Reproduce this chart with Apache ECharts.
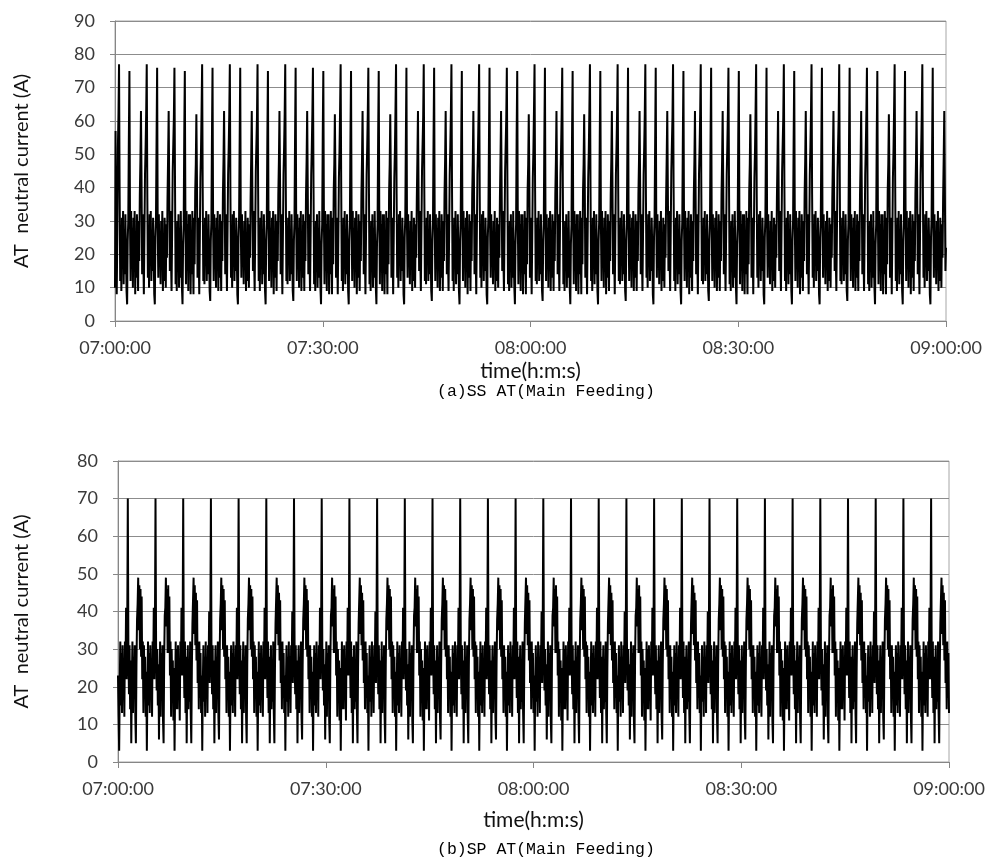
<!DOCTYPE html>
<html>
<head>
<meta charset="utf-8">
<script src="https://cdn.jsdelivr.net/npm/echarts@6/dist/echarts.min.js"></script>
<style>
html,body{margin:0;padding:0;background:#fff;}
#chart{width:988px;height:861px;}
</style>
</head>
<body>
<div id="chart"></div>
<script>
// sample spacing (seconds) and start time of the record
const stepSeconds = 5;
const startClock = 7 * 3600;
const xMinSeconds = 0, xMaxSeconds = 7200, xTickStep = 1800;

// (a) SS AT (Main Feeding) — neutral current in A, one value every 5 s from 07:00:00
const ssCurrent = [
10,57,20,8,26,52,62,
77,40,12,26,9,31,18,33,11,27,14,32,20,9,5,24,30,55,75,30,12,33,16,28,10,31,19,33,8,25,13,32,22,9,30,18,38,48,63,42,14,32,20,8,26,44,52,62,
77,38,13,27,10,32,17,33,12,26,15,31,21,8,5,25,31,54,76,28,13,32,17,27,11,30,20,33,9,26,12,31,23,10,29,19,37,49,63,40,15,33,19,9,27,45,53,61,
76,41,11,25,9,30,19,32,10,28,13,33,19,10,5,23,29,56,75,31,11,33,15,29,9,32,18,32,8,24,14,33,21,8,31,17,39,47,62,43,13,31,21,8,25,43,51,63,
77,39,12,27,11,31,18,33,12,27,14,32,20,9,6,24,30,55,76,29,12,32,16,28,10,31,19,33,9,25,13,32,22,9,30,18,38,48,63,41,14,32,20,9,26,44,52,62,
77,38,13,27,10,32,17,33,12,26,15,31,21,8,5,25,31,54,76,28,13,32,17,27,11,30,20,33,9,26,12,31,23,10,29,19,37,49,63,40,15,33,19,9,27,45,53,61,
77,40,12,26,9,31,18,33,11,27,14,32,20,9,5,24,30,55,75,30,12,33,16,28,10,31,19,33,8,25,13,32,22,9,30,18,38,48,63,42,14,32,20,8,26,44,52,62,
77,39,12,27,11,31,18,33,12,27,14,32,20,9,6,24,30,55,76,29,12,32,16,28,10,31,19,33,9,25,13,32,22,9,30,18,38,48,63,41,14,32,20,9,26,44,52,62,
76,41,11,25,9,30,19,32,10,28,13,33,19,10,5,23,29,56,75,31,11,33,15,29,9,32,18,32,8,24,14,33,21,8,31,17,39,47,62,43,13,31,21,8,25,43,51,63,
77,40,12,26,9,31,18,33,11,27,14,32,20,9,5,24,30,55,75,30,12,33,16,28,10,31,19,33,8,25,13,32,22,9,30,18,38,48,63,42,14,32,20,8,26,44,52,62,
76,41,11,25,9,30,19,32,10,28,13,33,19,10,5,23,29,56,75,31,11,33,15,29,9,32,18,32,8,24,14,33,21,8,31,17,39,47,62,43,13,31,21,8,25,43,51,63,
77,38,13,27,10,32,17,33,12,26,15,31,21,8,5,25,31,54,76,28,13,32,17,27,11,30,20,33,9,26,12,31,23,10,29,19,37,49,63,40,15,33,19,9,27,45,53,61,
77,39,12,27,11,31,18,33,12,27,14,32,20,9,6,24,30,55,76,29,12,32,16,28,10,31,19,33,9,25,13,32,22,9,30,18,38,48,63,41,14,32,20,9,26,44,52,62,
77,40,12,26,9,31,18,33,11,27,14,32,20,9,5,24,30,55,75,30,12,33,16,28,10,31,19,33,8,25,13,32,22,9,30,18,38,48,63,42,14,32,20,8,26,44,52,62,
77,38,13,27,10,32,17,33,12,26,15,31,21,8,5,25,31,54,76,28,13,32,17,27,11,30,20,33,9,26,12,31,23,10,29,19,37,49,63,40,15,33,19,9,27,45,53,61,
76,41,11,25,9,30,19,32,10,28,13,33,19,10,5,23,29,56,75,31,11,33,15,29,9,32,18,32,8,24,14,33,21,8,31,17,39,47,62,43,13,31,21,8,25,43,51,63,
77,39,12,27,11,31,18,33,12,27,14,32,20,9,6,24,30,55,76,29,12,32,16,28,10,31,19,33,9,25,13,32,22,9,30,18,38,48,63,41,14,32,20,9,26,44,52,62,
76,41,11,25,9,30,19,32,10,28,13,33,19,10,5,23,29,56,75,31,11,33,15,29,9,32,18,32,8,24,14,33,21,8,31,17,39,47,62,43,13,31,21,8,25,43,51,63,
77,40,12,26,9,31,18,33,11,27,14,32,20,9,5,24,30,55,75,30,12,33,16,28,10,31,19,33,8,25,13,32,22,9,30,18,38,48,63,42,14,32,20,8,26,44,52,62,
77,39,12,27,11,31,18,33,12,27,14,32,20,9,6,24,30,55,76,29,12,32,16,28,10,31,19,33,9,25,13,32,22,9,30,18,38,48,63,41,14,32,20,9,26,44,52,62,
77,38,13,27,10,32,17,33,12,26,15,31,21,8,5,25,31,54,76,28,13,32,17,27,11,30,20,33,9,26,12,31,23,10,29,19,37,49,63,40,15,33,19,9,27,45,53,61,
77,40,12,26,9,31,18,33,11,27,14,32,20,9,5,24,30,55,75,30,12,33,16,28,10,31,19,33,8,25,13,32,22,9,30,18,38,48,63,42,14,32,20,8,26,44,52,62,
77,39,12,27,11,31,18,33,12,27,14,32,20,9,6,24,30,55,76,29,12,32,16,28,10,31,19,33,9,25,13,32,22,9,30,18,38,48,63,41,14,32,20,9,26,44,52,62,
76,41,11,25,9,30,19,32,10,28,13,33,19,10,5,23,29,56,75,31,11,33,15,29,9,32,18,32,8,24,14,33,21,8,31,17,39,47,62,43,13,31,21,8,25,43,51,63,
77,38,13,27,10,32,17,33,12,26,15,31,21,8,5,25,31,54,76,28,13,32,17,27,11,30,20,33,9,26,12,31,23,10,29,19,37,49,63,40,15,33,19,9,27,45,53,61,
77,40,12,26,9,31,18,33,11,27,14,32,20,9,5,24,30,55,75,30,12,33,16,28,10,31,19,33,8,25,13,32,22,9,30,18,38,48,63,42,14,32,20,8,26,44,52,62,
77,38,13,27,10,32,17,33,12,26,15,31,21,8,5,25,31,54,76,28,13,32,17,27,11,30,20,33,9,26,12,31,23,10,29,19,37,49,63,40,15,33,19,9,27,45,53,61,
77,39,12,27,11,31,18,33,12,27,14,32,20,9,6,24,30,55,76,29,12,32,16,28,10,31,19,33,9,25,13,32,22,9,30,18,38,48,63,41,14,32,20,9,26,44,52,62,
76,41,11,25,9,30,19,32,10,28,13,33,19,10,5,23,29,56,75,31,11,33,15,29,9,32,18,32,8,24,14,33,21,8,31,17,39,47,62,43,13,31,21,8,25,43,51,63,
77,40,12,26,9,31,18,33,11,27,14,32,20,9,5,24,30,55,75,30,12,33,16,28,10,31,19,33,8,25,13,32,22,9,30,18,38,48,63,42,14,32,20,8,26,44,52,62,
77,38,13,27,10,32,17,33,12,26,15,31,21,8,5,25,31,54,76,28,13,32,17,27,11,30,20,33,9,26,12,31,23,10,29,19,37,49,63,40,15,22
];

// (b) SP AT (Main Feeding) — neutral current in A, one value every 5 s from 07:00:00
const spCurrent = [
23,12,3,20,32,15,29,13,31,19,27,12,32,24,41,22,36,
70,30,18,31,14,27,5,22,32,13,28,17,31,12,5,26,38,42,49,35,47,30,46,28,44,22,32,13,31,18,28,12,24,3,20,32,15,29,13,31,19,27,12,32,24,41,22,36,
70,31,19,30,15,26,6,21,32,12,29,18,31,11,5,27,39,41,49,36,46,29,47,29,44,23,32,12,30,19,27,11,25,3,19,32,14,30,14,31,20,26,11,32,23,41,23,35,
70,29,17,32,13,28,5,23,31,14,27,16,32,13,5,25,37,43,49,34,47,31,45,27,43,21,31,14,32,17,29,13,23,3,21,31,16,28,12,32,18,28,13,31,25,40,21,37,
70,30,18,31,14,27,5,22,31,13,28,17,32,12,6,26,38,42,49,35,47,30,46,28,43,22,31,13,31,18,28,12,24,3,20,31,15,29,13,32,19,27,12,31,24,41,22,36,
70,30,18,31,14,27,5,22,32,13,28,17,31,12,5,26,38,42,49,35,47,30,46,28,44,22,32,13,31,18,28,12,24,3,20,32,15,29,13,31,19,27,12,32,24,41,22,36,
70,29,17,32,13,28,5,23,31,14,27,16,32,13,5,25,37,43,49,34,47,31,45,27,43,21,31,14,32,17,29,13,23,3,21,31,16,28,12,32,18,28,13,31,25,40,21,37,
70,30,18,31,14,27,5,22,31,13,28,17,32,12,6,26,38,42,49,35,47,30,46,28,43,22,31,13,31,18,28,12,24,3,20,31,15,29,13,32,19,27,12,31,24,41,22,36,
70,31,19,30,15,26,6,21,32,12,29,18,31,11,5,27,39,41,49,36,46,29,47,29,44,23,32,12,30,19,27,11,25,3,19,32,14,30,14,31,20,26,11,32,23,41,23,35,
70,29,17,32,13,28,5,23,31,14,27,16,32,13,5,25,37,43,49,34,47,31,45,27,43,21,31,14,32,17,29,13,23,3,21,31,16,28,12,32,18,28,13,31,25,40,21,37,
70,30,18,31,14,27,5,22,32,13,28,17,31,12,5,26,38,42,49,35,47,30,46,28,44,22,32,13,31,18,28,12,24,3,20,32,15,29,13,31,19,27,12,32,24,41,22,36,
70,31,19,30,15,26,6,21,32,12,29,18,31,11,5,27,39,41,49,36,46,29,47,29,44,23,32,12,30,19,27,11,25,3,19,32,14,30,14,31,20,26,11,32,23,41,23,35,
70,30,18,31,14,27,5,22,31,13,28,17,32,12,6,26,38,42,49,35,47,30,46,28,43,22,31,13,31,18,28,12,24,3,20,31,15,29,13,32,19,27,12,31,24,41,22,36,
70,30,18,31,14,27,5,22,32,13,28,17,31,12,5,26,38,42,49,35,47,30,46,28,44,22,32,13,31,18,28,12,24,3,20,32,15,29,13,31,19,27,12,32,24,41,22,36,
70,30,18,31,14,27,5,22,31,13,28,17,32,12,6,26,38,42,49,35,47,30,46,28,43,22,31,13,31,18,28,12,24,3,20,31,15,29,13,32,19,27,12,31,24,41,22,36,
70,29,17,32,13,28,5,23,31,14,27,16,32,13,5,25,37,43,49,34,47,31,45,27,43,21,31,14,32,17,29,13,23,3,21,31,16,28,12,32,18,28,13,31,25,40,21,37,
70,31,19,30,15,26,6,21,32,12,29,18,31,11,5,27,39,41,49,36,46,29,47,29,44,23,32,12,30,19,27,11,25,3,19,32,14,30,14,31,20,26,11,32,23,41,23,35,
70,30,18,31,14,27,5,22,32,13,28,17,31,12,5,26,38,42,49,35,47,30,46,28,44,22,32,13,31,18,28,12,24,3,20,32,15,29,13,31,19,27,12,32,24,41,22,36,
70,29,17,32,13,28,5,23,31,14,27,16,32,13,5,25,37,43,49,34,47,31,45,27,43,21,31,14,32,17,29,13,23,3,21,31,16,28,12,32,18,28,13,31,25,40,21,37,
70,31,19,30,15,26,6,21,32,12,29,18,31,11,5,27,39,41,49,36,46,29,47,29,44,23,32,12,30,19,27,11,25,3,19,32,14,30,14,31,20,26,11,32,23,41,23,35,
70,30,18,31,14,27,5,22,31,13,28,17,32,12,6,26,38,42,49,35,47,30,46,28,43,22,31,13,31,18,28,12,24,3,20,31,15,29,13,32,19,27,12,31,24,41,22,36,
70,29,17,32,13,28,5,23,31,14,27,16,32,13,5,25,37,43,49,34,47,31,45,27,43,21,31,14,32,17,29,13,23,3,21,31,16,28,12,32,18,28,13,31,25,40,21,37,
70,30,18,31,14,27,5,22,32,13,28,17,31,12,5,26,38,42,49,35,47,30,46,28,44,22,32,13,31,18,28,12,24,3,20,32,15,29,13,31,19,27,12,32,24,41,22,36,
70,30,18,31,14,27,5,22,31,13,28,17,32,12,6,26,38,42,49,35,47,30,46,28,43,22,31,13,31,18,28,12,24,3,20,31,15,29,13,32,19,27,12,31,24,41,22,36,
70,31,19,30,15,26,6,21,32,12,29,18,31,11,5,27,39,41,49,36,46,29,47,29,44,23,32,12,30,19,27,11,25,3,19,32,14,30,14,31,20,26,11,32,23,41,23,35,
70,30,18,31,14,27,5,22,32,13,28,17,31,12,5,26,38,42,49,35,47,30,46,28,44,22,32,13,31,18,28,12,24,3,20,32,15,29,13,31,19,27,12,32,24,41,22,36,
70,31,19,30,15,26,6,21,32,12,29,18,31,11,5,27,39,41,49,36,46,29,47,29,44,23,32,12,30,19,27,11,25,3,19,32,14,30,14,31,20,26,11,32,23,41,23,35,
70,29,17,32,13,28,5,23,31,14,27,16,32,13,5,25,37,43,49,34,47,31,45,27,43,21,31,14,32,17,29,13,23,3,21,31,16,28,12,32,18,28,13,31,25,40,21,37,
70,30,18,31,14,27,5,22,31,13,28,17,32,12,6,26,38,42,49,35,47,30,46,28,43,22,31,13,31,18,28,12,24,3,20,31,15,29,13,32,19,27,12,31,24,41,22,36,
70,30,18,31,14,27,5,22,32,13,28,17,31,12,5,26,38,42,49,35,47,30,46,28,44,22,32,13,31,18,28,12,24,3,20,32,15,29,13,31,19,27,12,32,24,41,22,36,
70,29,17,32,13,28,5,23,31,14,27,16,32,13,5,25,37,43,49,34,47,31,45,27,43,21,31,14,32,17,29,13
];

const yMaxTop = 90, yMaxBottom = 80, yStep = 10;
const yAxisName = 'AT  neutral current (A)';
const xAxisName = 'time(h:m:s)';
const captionTop = '(a)SS AT(Main Feeding)';
const captionBottom = '(b)SP AT(Main Feeding)';

function pad(n){ return (n < 10 ? '0' : '') + n; }
function clock(sec){
  const t = startClock + sec;
  return pad(Math.floor(t / 3600)) + ':' + pad(Math.floor((t % 3600) / 60)) + ':' + pad(t % 60);
}
const toPairs = arr => arr.map((v, i) => [i * stepSeconds, v]);

const labelFont = 'Lato';
const axisGray = '#868686';
const gridGray = '#8c8c8c';

function makeX(gridIndex, nameGap){
  return {
    type: 'value', gridIndex: gridIndex,
    min: xMinSeconds, max: xMaxSeconds, interval: xTickStep,
    axisLine: {show: true, onZero: false, lineStyle: {color: axisGray, width: 1}},
    axisTick: {show: true, length: 6, lineStyle: {color: axisGray}},
    splitLine: {show: false},
    axisLabel: {formatter: clock, fontFamily: labelFont, fontSize: 18, color: '#3a3a3a', margin: 18, showMaxLabel: true, showMinLabel: true},
    name: xAxisName, nameLocation: 'middle', nameGap: nameGap,
    nameTextStyle: {fontFamily: labelFont, fontSize: 21, color: '#111'}
  };
}
function makeY(gridIndex, max, nameGap){
  return {
    type: 'value', gridIndex: gridIndex, min: 0, max: max, interval: yStep,
    axisLine: {show: true, lineStyle: {color: axisGray, width: 1}},
    axisTick: {show: true, length: 5, lineStyle: {color: axisGray}},
    splitLine: {show: true, lineStyle: {color: gridGray, width: 1}},
    axisLabel: {fontFamily: labelFont, fontSize: 18, color: '#3a3a3a', margin: 20},
    name: yAxisName, nameLocation: 'middle', nameGap: nameGap, nameRotate: 90,
    nameTextStyle: {fontFamily: labelFont, fontSize: 20, color: '#111'}
  };
}

const chart = echarts.init(document.getElementById('chart'), null, {renderer: 'canvas'});
chart.setOption({
  animation: false,
  backgroundColor: '#ffffff',
  title: [
    {text: captionTop, left: 432, top: 378, textStyle: {fontFamily: 'Liberation Mono', fontSize: 16.5, fontWeight: 'normal', color: '#000'}},
    {text: captionBottom, left: 432, top: 836, textStyle: {fontFamily: 'Liberation Mono', fontSize: 16.5, fontWeight: 'normal', color: '#000'}}
  ],
  grid: [
    {left: 115, top: 21, right: 42, bottom: 540, show: true, borderColor: '#a6a6a6', borderWidth: 1},
    {left: 118, top: 461, right: 39, bottom: 99, show: true, borderColor: '#a6a6a6', borderWidth: 1}
  ],
  xAxis: [makeX(0, 40), makeX(1, 48)],
  yAxis: [makeY(0, yMaxTop, 83), makeY(1, yMaxBottom, 86)],
  series: [
    {type: 'line', xAxisIndex: 0, yAxisIndex: 0, data: toPairs(ssCurrent), showSymbol: false, sampling: null,
     lineStyle: {color: '#000', width: 2}, itemStyle: {color: '#000'}},
    {type: 'line', xAxisIndex: 1, yAxisIndex: 1, data: toPairs(spCurrent), showSymbol: false, sampling: null,
     lineStyle: {color: '#000', width: 2}, itemStyle: {color: '#000'}}
  ]
});
</script>
</body>
</html>
